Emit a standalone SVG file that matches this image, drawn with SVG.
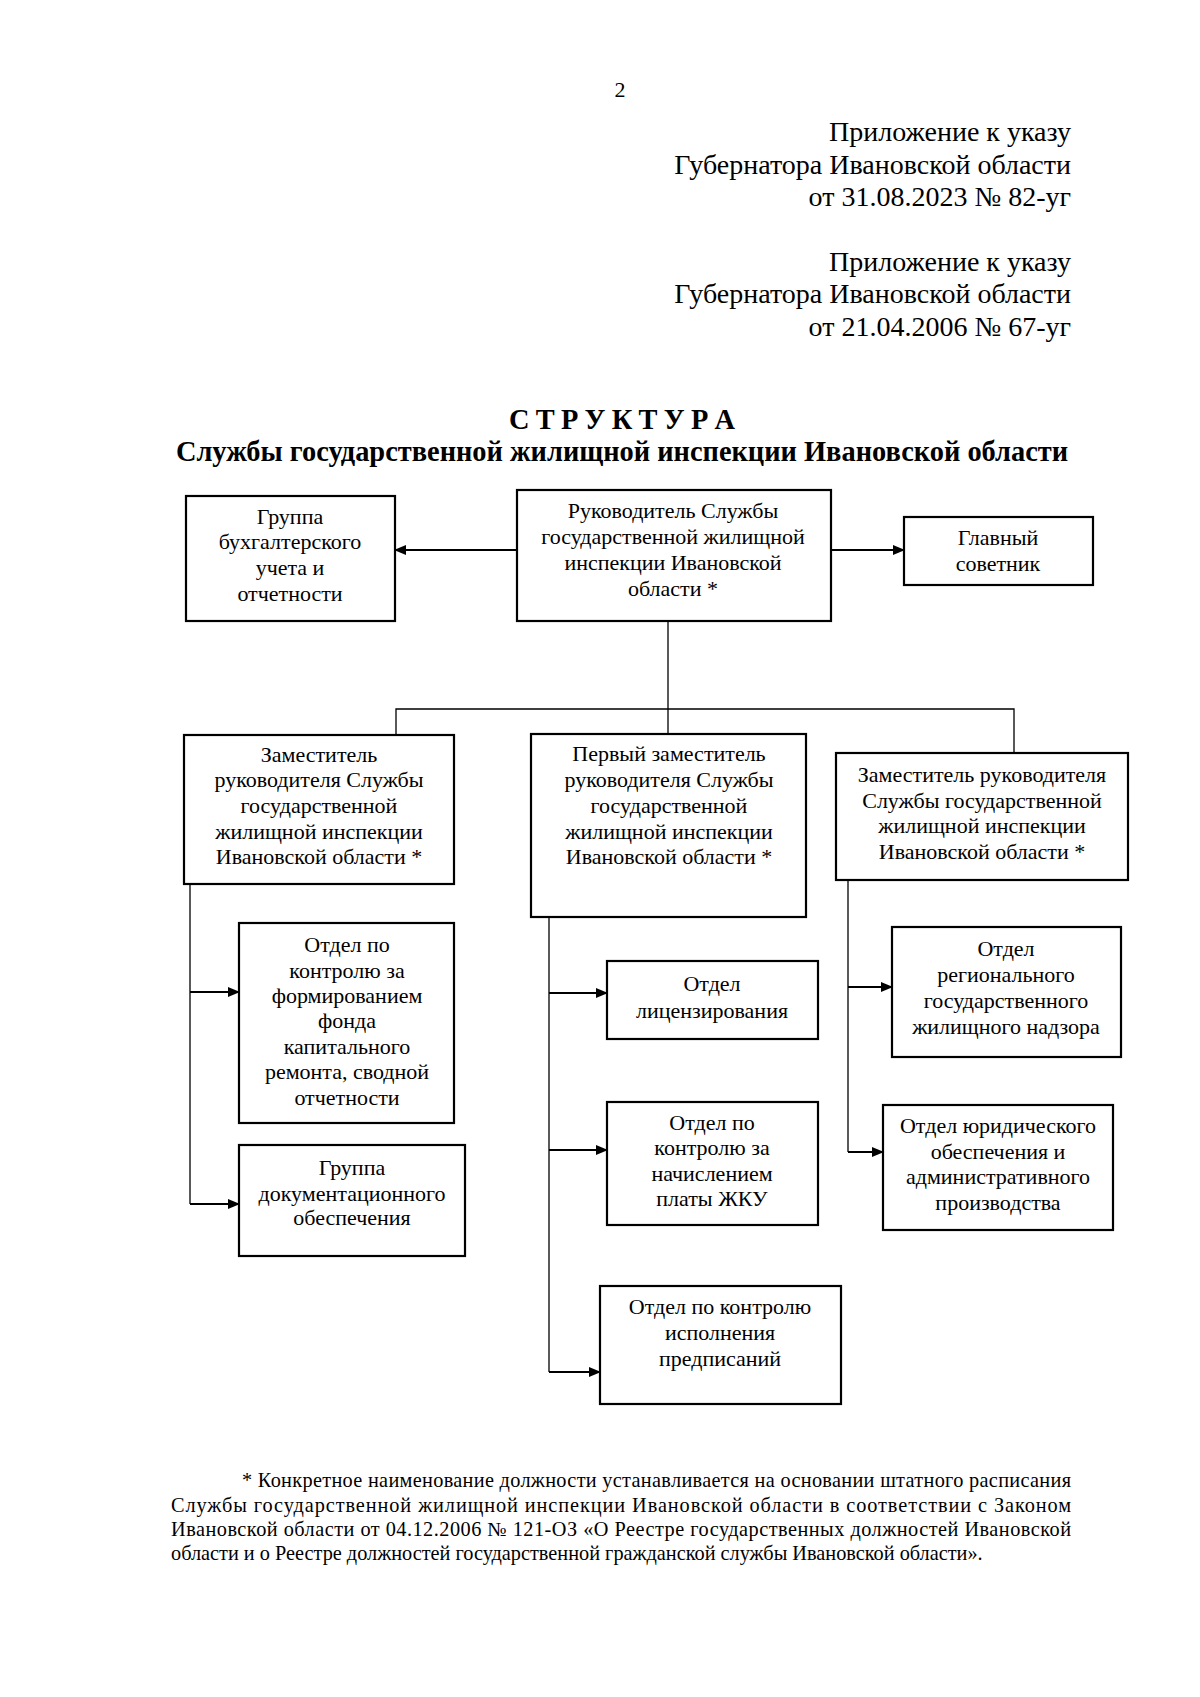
<svg xmlns="http://www.w3.org/2000/svg" width="1200" height="1697" viewBox="0 0 1200 1697">
<style>
text{font-family:"Liberation Serif","Times New Roman",serif;fill:#000}
.h{font-size:28px;text-anchor:end}
.t{font-size:28.4px;font-weight:bold;text-anchor:middle}
.b{font-size:22px;text-anchor:middle}
.f{font-size:20.3px}
.box{fill:#fff;stroke:#000;stroke-width:2.2}
.c{stroke:#000;stroke-width:1.3;fill:none}
.a{stroke:#000;stroke-width:2;fill:none}
</style>
<defs>
<marker id="ah" markerUnits="userSpaceOnUse" markerWidth="12" markerHeight="10" refX="11" refY="5" orient="auto">
<path d="M0,0 L12,5 L0,10 Z" fill="#000"/>
</marker>
</defs>
<rect width="1200" height="1697" fill="#fff"/>
<text x="620" y="97" style="font-size:22px;text-anchor:middle">2</text>
<g id="header">
<text class="h" x="1071" y="141">Приложение к указу</text>
<text class="h" x="1071" y="174">Губернатора Ивановской области</text>
<text class="h" x="1071" y="206">от 31.08.2023 № 82-уг</text>
<text class="h" x="1071" y="271">Приложение к указу</text>
<text class="h" x="1071" y="303">Губернатора Ивановской области</text>
<text class="h" x="1071" y="336">от 21.04.2006 № 67-уг</text>
</g>
<g id="title">
<text class="t" x="622" y="429" textLength="226" lengthAdjust="spacing">С Т Р У К Т У Р А</text>
<text class="t" x="622" y="461">Службы государственной жилищной инспекции Ивановской области</text>
</g>
<g id="connectors">
<line class="a" x1="517" y1="550" x2="395" y2="550" marker-end="url(#ah)"/>
<line class="a" x1="831" y1="550" x2="904" y2="550" marker-end="url(#ah)"/>
<polyline class="c" points="668,621 668,734"/>
<polyline class="c" points="396,735 396,709 1014,709 1014,753"/>
<line class="c" x1="190" y1="884" x2="190" y2="1204"/>
<line class="a" x1="190" y1="992" x2="239" y2="992" marker-end="url(#ah)"/>
<line class="a" x1="190" y1="1204" x2="239" y2="1204" marker-end="url(#ah)"/>
<line class="c" x1="549" y1="917" x2="549" y2="1372"/>
<line class="a" x1="549" y1="993" x2="607" y2="993" marker-end="url(#ah)"/>
<line class="a" x1="549" y1="1150" x2="607" y2="1150" marker-end="url(#ah)"/>
<line class="a" x1="549" y1="1372" x2="600" y2="1372" marker-end="url(#ah)"/>
<line class="c" x1="848" y1="880" x2="848" y2="1152"/>
<line class="a" x1="848" y1="987" x2="892" y2="987" marker-end="url(#ah)"/>
<line class="a" x1="848" y1="1152" x2="883" y2="1152" marker-end="url(#ah)"/>
</g>
<g id="n-buh">
<rect class="box" x="186" y="496" width="209" height="125"/>
<text class="b" x="290"><tspan x="290" y="524">Группа</tspan><tspan x="290" y="549">бухгалтерского</tspan><tspan x="290" y="575">учета и</tspan><tspan x="290" y="601">отчетности</tspan></text>
</g>
<g id="n-head">
<rect class="box" x="517" y="490" width="314" height="131"/>
<text class="b" x="673"><tspan x="673" y="518">Руководитель Службы</tspan><tspan x="673" y="544">государственной жилищной</tspan><tspan x="673" y="570">инспекции Ивановской</tspan><tspan x="673" y="596">области *</tspan></text>
</g>
<g id="n-adv">
<rect class="box" x="904" y="517" width="189" height="68"/>
<text class="b" x="998"><tspan x="998" y="545">Главный</tspan><tspan x="998" y="571">советник</tspan></text>
</g>
<g id="n-dep1">
<rect class="box" x="184" y="735" width="270" height="149"/>
<text class="b" x="319"><tspan x="319" y="762">Заместитель</tspan><tspan x="319" y="787">руководителя Службы</tspan><tspan x="319" y="813">государственной</tspan><tspan x="319" y="839">жилищной инспекции</tspan><tspan x="319" y="864">Ивановской области *</tspan></text>
</g>
<g id="n-first">
<rect class="box" x="531" y="734" width="275" height="183"/>
<text class="b" x="669"><tspan x="669" y="761">Первый заместитель</tspan><tspan x="669" y="787">руководителя Службы</tspan><tspan x="669" y="813">государственной</tspan><tspan x="669" y="839">жилищной инспекции</tspan><tspan x="669" y="864">Ивановской области *</tspan></text>
</g>
<g id="n-dep2">
<rect class="box" x="836" y="753" width="292" height="127"/>
<text class="b" x="982"><tspan x="982" y="782">Заместитель руководителя</tspan><tspan x="982" y="808">Службы государственной</tspan><tspan x="982" y="833">жилищной инспекции</tspan><tspan x="982" y="859">Ивановской области *</tspan></text>
</g>
<g id="n-fond">
<rect class="box" x="239" y="923" width="215" height="200"/>
<text class="b" x="347"><tspan x="347" y="952">Отдел по</tspan><tspan x="347" y="978">контролю за</tspan><tspan x="347" y="1003">формированием</tspan><tspan x="347" y="1028">фонда</tspan><tspan x="347" y="1054">капитального</tspan><tspan x="347" y="1079">ремонта, сводной</tspan><tspan x="347" y="1105">отчетности</tspan></text>
</g>
<g id="n-doc">
<rect class="box" x="239" y="1145" width="226" height="111"/>
<text class="b" x="352"><tspan x="352" y="1175">Группа</tspan><tspan x="352" y="1201">документационного</tspan><tspan x="352" y="1225">обеспечения</tspan></text>
</g>
<g id="n-lic">
<rect class="box" x="607" y="961" width="211" height="78"/>
<text class="b" x="712"><tspan x="712" y="991">Отдел</tspan><tspan x="712" y="1018">лицензирования</tspan></text>
</g>
<g id="n-zhku">
<rect class="box" x="607" y="1102" width="211" height="123"/>
<text class="b" x="712"><tspan x="712" y="1130">Отдел по</tspan><tspan x="712" y="1155">контролю за</tspan><tspan x="712" y="1181">начислением</tspan><tspan x="712" y="1206">платы ЖКУ</tspan></text>
</g>
<g id="n-pred">
<rect class="box" x="600" y="1286" width="241" height="118"/>
<text class="b" x="720"><tspan x="720" y="1314">Отдел по контролю</tspan><tspan x="720" y="1340">исполнения</tspan><tspan x="720" y="1366">предписаний</tspan></text>
</g>
<g id="n-nadzor">
<rect class="box" x="892" y="927" width="229" height="130"/>
<text class="b" x="1006"><tspan x="1006" y="956">Отдел</tspan><tspan x="1006" y="982">регионального</tspan><tspan x="1006" y="1008">государственного</tspan><tspan x="1006" y="1034">жилищного надзора</tspan></text>
</g>
<g id="n-jur">
<rect class="box" x="883" y="1105" width="230" height="125"/>
<text class="b" x="998"><tspan x="998" y="1133">Отдел юридического</tspan><tspan x="998" y="1159">обеспечения и</tspan><tspan x="998" y="1184">административного</tspan><tspan x="998" y="1210">производства</tspan></text>
</g>
<g id="footnote">
<text class="f" x="242" y="1487" textLength="829" lengthAdjust="spacing">* Конкретное наименование должности устанавливается на основании штатного расписания</text>
<text class="f" x="171" y="1512" textLength="900" lengthAdjust="spacing">Службы государственной жилищной инспекции Ивановской области в соответствии с Законом</text>
<text class="f" x="171" y="1536" textLength="900" lengthAdjust="spacing">Ивановской области от 04.12.2006 № 121-ОЗ «О Реестре государственных должностей Ивановской</text>
<text class="f" x="171" y="1560">области и о Реестре должностей государственной гражданской службы Ивановской области».</text>
</g>
</svg>
